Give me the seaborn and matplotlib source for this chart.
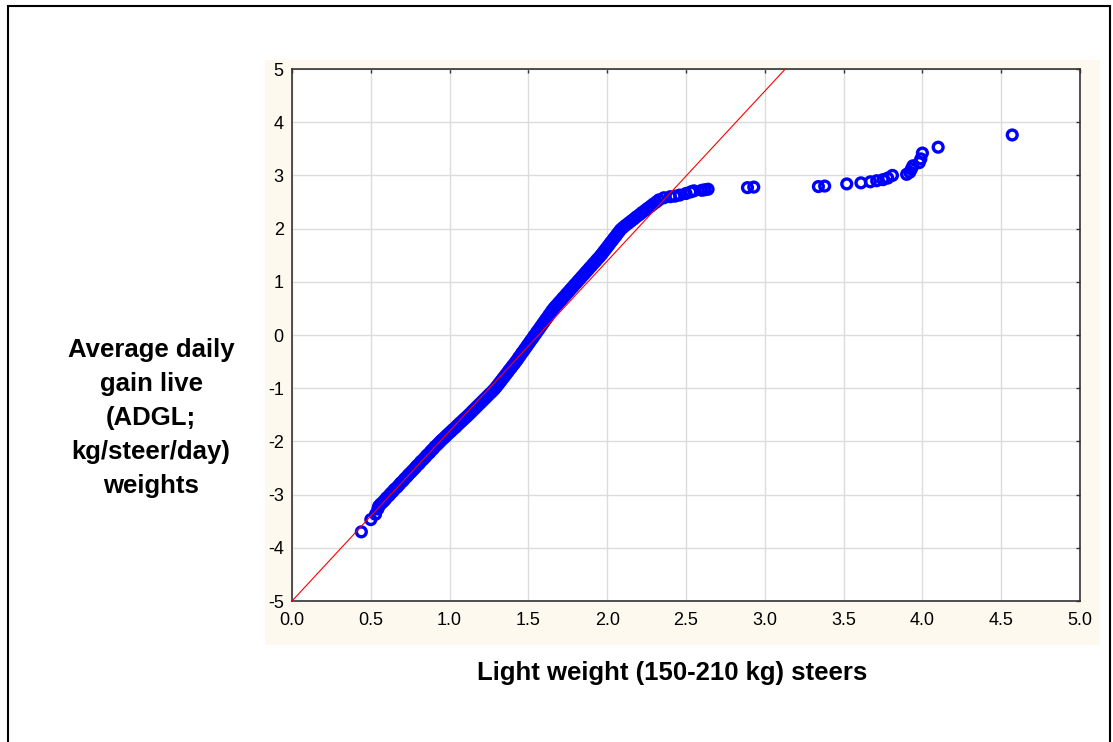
import matplotlib
matplotlib.use("Agg")
import matplotlib.pyplot as plt
from matplotlib.patches import Rectangle
import seaborn as sns
import pandas as pd

# ---------------- data ----------------
# Normal probability plot: observed ADGL values (x) vs expected normal value (z)
z_low = [-3.70, -3.47, -3.37, -3.27]
x_low = [0.44, 0.50, 0.53, 0.545]

z_band = [-3.22, -3.18, -3.14, -3.10, -3.06, -3.02, -2.98, -2.94, -2.90, -2.86,
          -2.82, -2.78, -2.74, -2.70, -2.66, -2.62, -2.58, -2.54, -2.50, -2.46,
          -2.42, -2.38, -2.34, -2.30, -2.26, -2.22, -2.18, -2.14, -2.10, -2.06,
          -2.02, -1.98, -1.94, -1.90, -1.86, -1.82, -1.78, -1.74, -1.70, -1.66,
          -1.62, -1.58, -1.54, -1.50, -1.46, -1.42, -1.38, -1.34, -1.30, -1.26,
          -1.22, -1.18, -1.14, -1.10, -1.06, -1.02, -0.98, -0.94, -0.90, -0.86,
          -0.82, -0.78, -0.74, -0.70, -0.66, -0.62, -0.58, -0.54, -0.50, -0.46,
          -0.42, -0.38, -0.34, -0.30, -0.26, -0.22, -0.18, -0.14, -0.10, -0.06,
          -0.02, 0.02, 0.06, 0.10, 0.14, 0.18, 0.22, 0.26, 0.30, 0.34,
          0.38, 0.42, 0.46, 0.50, 0.54, 0.58, 0.62, 0.66, 0.70, 0.74,
          0.78, 0.82, 0.86, 0.90, 0.94, 0.98, 1.02, 1.06, 1.10, 1.14,
          1.18, 1.22, 1.26, 1.30, 1.34, 1.38, 1.42, 1.46, 1.50, 1.54,
          1.58, 1.62, 1.66, 1.70, 1.74, 1.78, 1.82, 1.86, 1.90, 1.94,
          1.98, 2.02, 2.06, 2.10, 2.14, 2.18, 2.22, 2.26, 2.30, 2.34,
          2.38, 2.42, 2.46, 2.50, 2.54]
x_band = [0.550, 0.562, 0.577, 0.590, 0.600, 0.615, 0.626, 0.640, 0.651, 0.667,
          0.679, 0.690, 0.705, 0.716, 0.730, 0.741, 0.755, 0.768, 0.781, 0.792,
          0.807, 0.817, 0.832, 0.845, 0.856, 0.871, 0.882, 0.896, 0.907, 0.922,
          0.935, 0.948, 0.963, 0.977, 0.991, 1.006, 1.020, 1.036, 1.049, 1.063,
          1.078, 1.092, 1.107, 1.121, 1.135, 1.148, 1.162, 1.175, 1.189, 1.203,
          1.216, 1.230, 1.243, 1.257, 1.271, 1.284, 1.295, 1.306, 1.316, 1.327,
          1.337, 1.348, 1.358, 1.369, 1.378, 1.390, 1.399, 1.411, 1.420, 1.431,
          1.439, 1.450, 1.458, 1.469, 1.478, 1.488, 1.497, 1.507, 1.516, 1.527,
          1.535, 1.546, 1.554, 1.565, 1.574, 1.584, 1.593, 1.603, 1.612, 1.623,
          1.631, 1.642, 1.650, 1.661, 1.672, 1.685, 1.696, 1.709, 1.720, 1.733,
          1.744, 1.757, 1.768, 1.781, 1.792, 1.805, 1.816, 1.829, 1.840, 1.853,
          1.864, 1.877, 1.888, 1.901, 1.912, 1.925, 1.936, 1.949, 1.960, 1.971,
          1.981, 1.992, 2.002, 2.013, 2.022, 2.034, 2.043, 2.055, 2.064, 2.075,
          2.085, 2.100, 2.116, 2.134, 2.151, 2.169, 2.185, 2.204, 2.220, 2.239,
          2.256, 2.275, 2.292, 2.311, 2.328]

z_high = [2.58, 2.60, 2.61, 2.63, 2.66, 2.69, 2.71, 2.72, 2.73, 2.74,
          2.77, 2.78, 2.79, 2.80, 2.84, 2.86, 2.88, 2.90, 2.92, 2.95,
          3.00, 3.02, 3.06, 3.12, 3.18, 3.24, 3.31, 3.42, 3.53, 3.76]
x_high = [2.36, 2.40, 2.43, 2.46, 2.50, 2.53, 2.55, 2.60, 2.62, 2.64,
          2.89, 2.93, 3.34, 3.38, 3.52, 3.61, 3.67, 3.71, 3.75, 3.78,
          3.81, 3.90, 3.92, 3.93, 3.94, 3.98, 3.99, 4.00, 4.10, 4.57]

# fitted normal reference line: z = (x - mean) / sd
line_mean = 1.565
line_sd = 0.313

x_ticks = [0.0, 0.5, 1.0, 1.5, 2.0, 2.5, 3.0, 3.5, 4.0, 4.5, 5.0]
y_ticks = [-5, -4, -3, -2, -1, 0, 1, 2, 3, 4, 5]
x_label = "Light weight (150-210 kg) steers"
y_label = "Average daily\ngain live\n(ADGL;\nkg/steer/day)\nweights"

df = pd.DataFrame({
    "x": x_low + x_band + x_high,
    "z": z_low + z_band + z_high,
})

# ---------------- style ----------------
sns.set_style("white")
plt.rcParams["font.family"] = ["Liberation Sans", "DejaVu Sans"]
plt.rcParams["axes.unicode_minus"] = False

fig = plt.figure(figsize=(11.13, 7.42), dpi=100)
fig.patch.set_facecolor("white")

# cream panel behind the plot area
fig.patches.append(Rectangle((265 / 1113, 1 - 645 / 742), (1100 - 265) / 1113, (645 - 60) / 742,
                             transform=fig.transFigure, facecolor="#fdf9ee",
                             edgecolor="none", zorder=0))
# outer frame
fig.patches.append(Rectangle((8 / 1113, -0.05), (1110 - 8) / 1113, 1.05 - 6 / 742,
                             transform=fig.transFigure, facecolor="none",
                             edgecolor="black", linewidth=1.5, zorder=1))

ax = fig.add_axes([292 / 1113, 1 - 601 / 742, (1080 - 292) / 1113, (601 - 69) / 742])
ax.set_facecolor("white")
ax.set_zorder(2)

ax.grid(True, color="#dcdcdc", linewidth=1.0)
ax.set_axisbelow(True)

sns.scatterplot(data=df, x="x", y="z", ax=ax, marker="o", s=50,
                facecolor="none", edgecolor="#0000ff", linewidth=2.4, zorder=4)

ax.axline((line_mean, 0), slope=1 / line_sd, color="#ff0000", linewidth=0.8, zorder=5)

ax.set_xlim(0, 5)
ax.set_ylim(-5, 5)
ax.set_xticks(x_ticks)
ax.set_xticklabels([f"{t:.1f}" for t in x_ticks])
ax.set_yticks(y_ticks)
ax.set_yticklabels([str(t) for t in y_ticks])
ax.tick_params(axis="both", direction="in", length=3, width=1, color="#333333",
               labelsize=13, labelcolor="black", top=True, right=True)
ax.tick_params(axis="x", pad=8)
ax.tick_params(axis="y", pad=6)
for sp in ax.spines.values():
    sp.set_color("#333333")
    sp.set_linewidth(1.2)

ax.set_xlabel("")
ax.set_ylabel("")
fig.text(672 / 1113, 1 - 673 / 742, x_label, ha="center", va="center",
         fontsize=18.5, fontweight="bold", color="black")
fig.text(151 / 1113, 1 - 418 / 742, y_label, ha="center", va="center",
         fontsize=18.5, fontweight="bold", linespacing=1.53, multialignment="center",
         color="black")

fig.savefig("out.png", dpi=100, facecolor="white")
